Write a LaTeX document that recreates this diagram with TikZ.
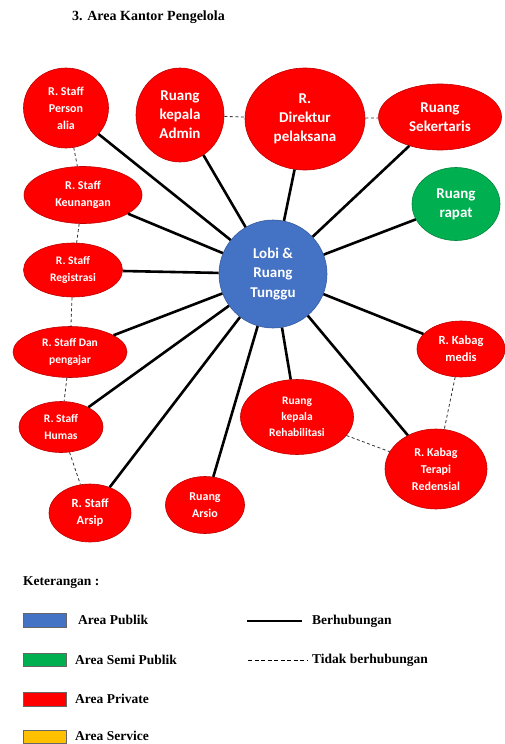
\documentclass[tikz,border=0pt]{standalone}
\usepackage{fontspec}
\setmainfont{Liberation Serif}
\newfontfamily\carl{Carlito}
\usetikzlibrary{shapes.geometric}
\definecolor{pubblue}{HTML}{4472C4}
\definecolor{semigreen}{HTML}{00B050}
\definecolor{privred}{HTML}{FF0000}
\definecolor{servyellow}{HTML}{FFC000}
\tikzset{
  room/.style={ellipse, fill=privred, draw=privred!75!black, line width=0.6pt, inner sep=0pt,
    text=white, font=\carl\bfseries, align=center},
  conn/.style={line width=2.6pt, black},
  noconn/.style={line width=0.8pt, black!80, dash pattern=on 3pt off 2.5pt},
  legtext/.style={font=\bfseries\fontsize{13.5}{15}\selectfont, anchor=west, inner sep=0pt},
  legbox/.style={draw=black!60, line width=0.4pt, minimum width=43pt, inner sep=0pt, anchor=north west}
}
\begin{document}
\begin{tikzpicture}[x=1pt,y=-1pt]
\useasboundingbox (0,0) rectangle (505,744);
\node[font=\bfseries\fontsize{14}{15}\selectfont, anchor=west, inner sep=0pt] (title) at (72,17) {3. Area Kantor Pengelola};

\node[circle, fill=pubblue, draw=pubblue!80!black, line width=0.6pt, minimum size=108pt, inner sep=0pt,
  text=white, font=\carl\bfseries\fontsize{15}{19.5}\selectfont, align=center] (lobi) at (273,274) {Lobi \&\\Ruang\\Tunggu};

\node[room, minimum width=85pt, minimum height=80pt, font=\carl\bfseries\fontsize{12}{17}\selectfont] (person) at (66,108) {R. Staff\\Person\\alia};
\node[room, minimum width=88pt, minimum height=94pt, font=\carl\bfseries\fontsize{15}{19}\selectfont] (admin) at (180,115) {Ruang\\kepala\\Admin};
\node[room, minimum width=120pt, minimum height=102pt, font=\carl\bfseries\fontsize{15}{19}\selectfont] (dir) at (305,119) {R.\\Direktur\\pelaksana};
\node[room, minimum width=123pt, minimum height=66pt, font=\carl\bfseries\fontsize{15}{19}\selectfont] (sek) at (440,117) {Ruang\\Sekertaris};
\node[room, fill=semigreen, draw=semigreen!75!black, minimum width=88pt, minimum height=73pt, font=\carl\bfseries\fontsize{15}{19}\selectfont] (rapat) at (456,204) {Ruang\\rapat};
\node[room, minimum width=118pt, minimum height=57pt, font=\carl\bfseries\fontsize{12}{17}\selectfont] (keu) at (83,195) {R. Staff\\Keunangan};
\node[room, minimum width=99pt, minimum height=54pt, font=\carl\bfseries\fontsize{11.5}{17}\selectfont] (reg) at (73,270) {R. Staff\\Registrasi};
\node[room, minimum width=114pt, minimum height=51pt, font=\carl\bfseries\fontsize{11.5}{17}\selectfont] (dan) at (70,352) {R. Staff Dan\\pengajar};
\node[room, minimum width=84pt, minimum height=51pt, font=\carl\bfseries\fontsize{11.5}{17}\selectfont] (humas) at (61,427) {R. Staff\\Humas};
\node[room, minimum width=82pt, minimum height=58pt, font=\carl\bfseries\fontsize{12.5}{17}\selectfont] (arsip) at (90,513) {R. Staff\\Arsip};
\node[room, minimum width=79pt, minimum height=57pt, font=\carl\bfseries\fontsize{12}{17}\selectfont] (arsio) at (205,505) {Ruang\\Arsio};
\node[room, minimum width=113pt, minimum height=75pt, font=\carl\bfseries\fontsize{11.5}{16}\selectfont] (rehab) at (297,417) {Ruang\\kepala\\Rehabilitasi};
\node[room, minimum width=88pt, minimum height=56pt, font=\carl\bfseries\fontsize{12.5}{17}\selectfont] (medis) at (461,349) {R. Kabag\\medis};
\node[room, minimum width=102pt, minimum height=80pt, font=\carl\bfseries\fontsize{12}{17}\selectfont] (terapi) at (436,469) {R. Kabag\\Terapi\\Redensial};

\foreach \n in {person,admin,dir,sek,rapat,keu,reg,dan,humas,arsip,arsio,rehab,medis,terapi}
  \draw[conn] (lobi) -- (\n);

\draw[noconn] (admin) -- (dir);
\draw[noconn] (dir) -- (sek);
\draw[noconn] (person) -- (keu);
\draw[noconn] (keu) -- (reg);
\draw[noconn] (reg) -- (dan);
\draw[noconn] (dan) -- (humas);
\draw[noconn] (humas) -- (arsip);
\draw[noconn] (rehab) -- (terapi);
\draw[noconn] (medis) -- (terapi);

% legend
\node[legtext] (ket) at (23,583) {Keterangan :};
\node[legbox, fill=pubblue, minimum height=14pt] (lb1) at (23,613) {};
\node[legtext] (lt1) at (78,620) {Area Publik};
\node[legbox, fill=semigreen, minimum height=13pt] (lb2) at (23,653) {};
\node[legtext] (lt2) at (75,660) {Area Semi Publik};
\node[legbox, fill=privred, minimum height=14pt] (lb3) at (23,692) {};
\node[legtext] (lt3) at (75,699) {Area Private};
\node[legbox, fill=servyellow, minimum height=13pt] (lb4) at (23,730) {};
\node[legtext] (lt4) at (75,735.5) {Area Service};

\coordinate (s1) at (247,621);
\coordinate (s2) at (302,621);
\draw[line width=2.4pt] (s1) -- (s2);
\node[legtext] (lt5) at (312,621) {Berhubungan};
\coordinate (d1) at (248,660);
\coordinate (d2) at (308,660);
\draw[line width=0.7pt, dash pattern=on 4pt off 2.5pt] (d1) -- (d2);
\node[legtext] (lt6) at (312,660) {Tidak berhubungan};
\end{tikzpicture}
\end{document}
